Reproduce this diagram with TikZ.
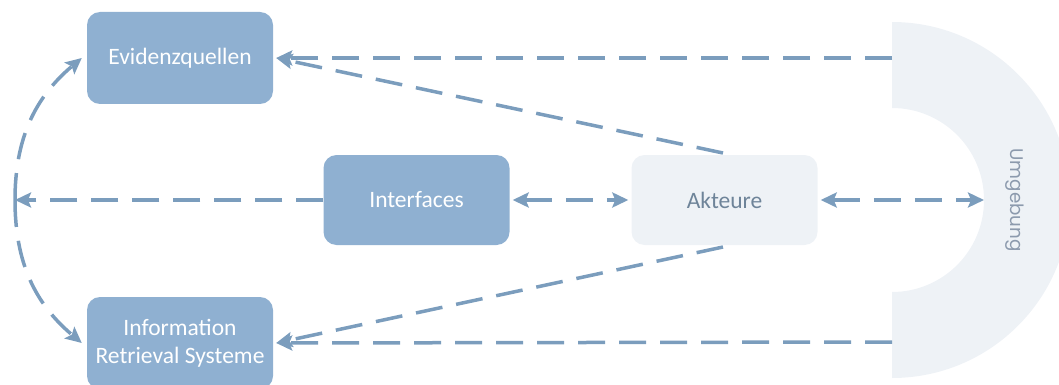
\documentclass[tikz,border=0pt]{standalone}
\usepackage{fontspec}
\setmainfont{Carlito}
\newfontfamily\umgfont{Poppins}
\usetikzlibrary{arrows.meta}
\definecolor{boxblue}{HTML}{8FB0D1}
\definecolor{linblue}{HTML}{7B9DBD}
\definecolor{lightbg}{HTML}{EEF2F6}
\definecolor{akttext}{HTML}{6E8499}
\definecolor{umgtext}{HTML}{8C9AAD}
\tikzset{
  bluebox/.style={fill=boxblue, rounded corners=13pt, minimum width=186pt, minimum height=92pt,
    text=white, align=center, font=\fontsize{23.5}{28}\selectfont, inner sep=0pt},
  lightbox/.style={bluebox, fill=lightbg, text=akttext},
  conn/.style={draw=linblue, line width=3.5pt, dash pattern=on 27pt off 14pt},
  tip/.tip={Stealth[length=16pt, width=15pt, inset=3pt]}
}
\begin{document}
\begin{tikzpicture}[x=1pt,y=-1pt]
\useasboundingbox (0,0) rectangle (1059,385);
\clip (0,0) rectangle (1059,385);
% Umgebung half ring
\fill[lightbg] (892,22) arc[start angle=-90, end angle=90, radius=178]
  -- (892,292) arc[start angle=90, end angle=-90, radius=92] -- cycle;
\node[rotate=-90, text=umgtext, font=\umgfont\fontsize{18.3}{20}\selectfont] (U) at (1015,200) {Umgebung};
% boxes
\node[bluebox] (E) at (180,58) {Evidenzquellen};
\node[bluebox, minimum height=90pt] (I) at (416.5,200) {Interfaces};
\node[lightbox, minimum height=90pt] (A) at (724.5,200) {Akteure};
\node[bluebox] (R) at (180,343) {Information\\Retrieval Systeme};
% coordinates
\coordinate (Ut) at (892,58);
\coordinate (Ub) at (892,342);
\coordinate (Uin) at (984,200);
\coordinate (L) at (15,200);
\coordinate (At) at (723,153);
\coordinate (Ab) at (723,247);
% connectors
\draw[conn, -tip] (Ut) -- ([xshift=3pt]E.east);
\draw[conn, -tip] (Ub) -- ([xshift=3pt]R.east);
\draw[conn, -tip] (At) -- ([xshift=3pt]E.east);
\draw[conn, -tip] (Ab) -- ([xshift=3pt]R.east);
\draw[conn, tip-tip] ([xshift=3pt]I.east) -- ([xshift=-3pt]A.west);
\draw[conn, tip-tip] ([xshift=3pt]A.east) -- (Uin);
\draw[conn, -tip] (I.west) -- (L);
\draw[conn, -tip] (L) to[out=90, in=-140] ([xshift=-5pt]E.west);
\draw[conn, -tip] (L) to[out=-90, in=140] ([xshift=-5pt]R.west);
\end{tikzpicture}
\end{document}
